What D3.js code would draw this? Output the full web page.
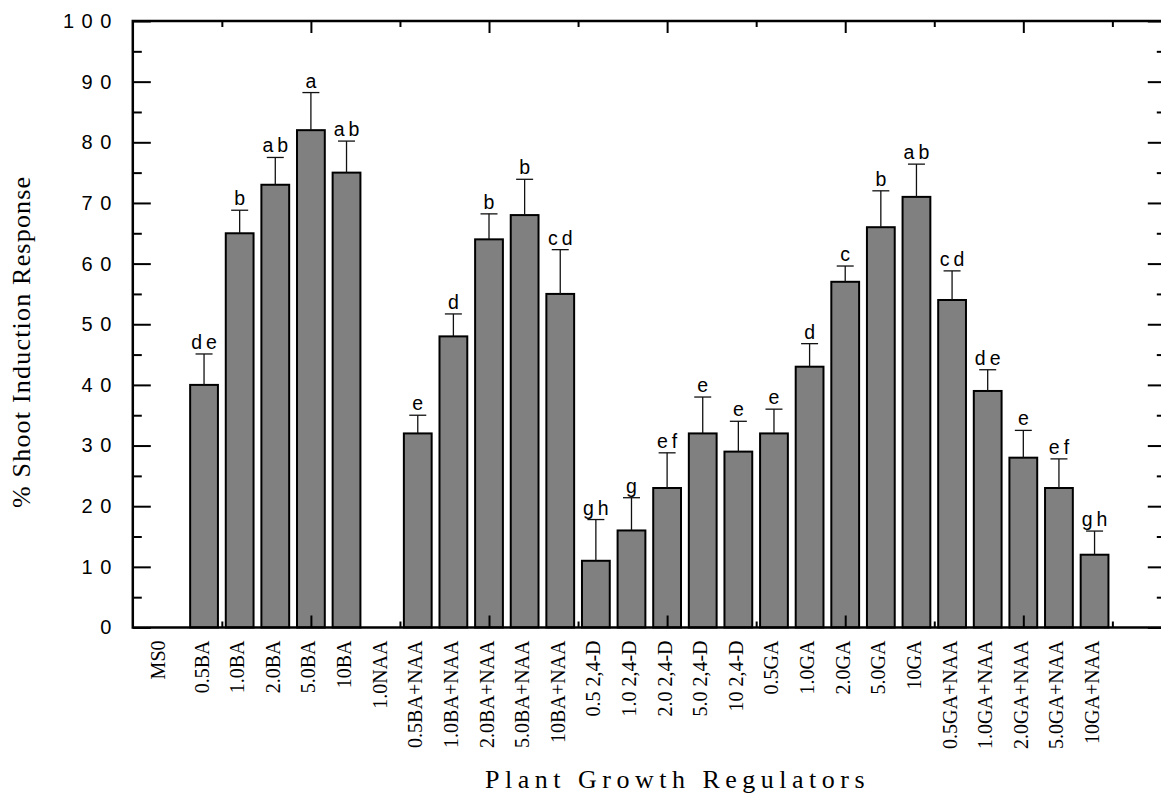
<!DOCTYPE html>
<html>
<head>
<meta charset="utf-8">
<script src="https://cdn.jsdelivr.net/npm/d3@7"></script>
<style>
  html, body { margin: 0; padding: 0; background: #fff; }
  svg { display: block; }
</style>
</head>
<body>
<svg id="chart" width="1161" height="796"></svg>
<script>
// Treatments in plotting order
const categories = [
  "MS0", "0.5BA", "1.0BA", "2.0BA", "5.0BA", "10BA", "1.0NAA",
  "0.5BA+NAA", "1.0BA+NAA", "2.0BA+NAA", "5.0BA+NAA", "10BA+NAA",
  "0.5 2,4-D", "1.0 2,4-D", "2.0 2,4-D", "5.0 2,4-D", "10 2,4-D",
  "0.5GA", "1.0GA", "2.0GA", "5.0GA", "10GA",
  "0.5GA+NAA", "1.0GA+NAA", "2.0GA+NAA", "5.0GA+NAA", "10GA+NAA"
];
// Mean % shoot induction response
const means = [
  0, 40, 65, 73, 82, 75, 0,
  32, 48, 64, 68, 55,
  11, 16, 23, 32, 29,
  32, 43, 57, 66, 71,
  54, 39, 28, 23, 12
];
// Standard error (upper bar only)
const errors = [
  0, 5.1, 3.8, 4.5, 6.2, 5.2, 0,
  3.0, 3.7, 4.2, 5.9, 7.3,
  6.8, 5.4, 5.8, 6.0, 5.0,
  4.0, 3.8, 2.6, 6.0, 5.4,
  4.8, 3.5, 4.5, 4.8, 3.9
];
// Significance groups
const letters = [
  "", "de", "b", "ab", "a", "ab", "",
  "e", "d", "b", "b", "cd",
  "gh", "g", "ef", "e", "e",
  "e", "d", "c", "b", "ab",
  "cd", "de", "e", "ef", "gh"
];
const yTicks = [0, 10, 20, 30, 40, 50, 60, 70, 80, 90, 100];
const yMinorTicks = [5, 15, 25, 35, 45, 55, 65, 75, 85, 95];
const xMajorTicks = [5, 10, 15, 20, 25];
const xMinorTicks = [2.5, 7.5, 12.5, 17.5, 22.5, 27.5];

const data = categories.map((c, i) => ({
  name: c, pos: i + 1, mean: means[i], err: errors[i], letter: letters[i]
}));

const svg = d3.select("#chart");
const plotL = 132.8, plotR = 1165.8, plotT = 21, plotB = 627.5;

const x = d3.scaleLinear().domain([0, 29]).range([plotL, plotR]);
const y = d3.scaleLinear().domain([0, 100]).range([plotB, plotT]);

const barW = 0.78;
const capHalf = 8.5;

// bars
svg.append("g").selectAll("rect").data(data.filter(d => d.mean > 0)).join("rect")
  .attr("x", d => x(d.pos - barW / 2))
  .attr("y", d => y(d.mean))
  .attr("width", x(barW) - x(0))
  .attr("height", d => y(0) - y(d.mean))
  .attr("fill", "#808080")
  .attr("stroke", "#000")
  .attr("stroke-width", 2);

// error bars
const eb = svg.append("g").attr("stroke", "#111").attr("stroke-width", 1.3);
const withErr = data.filter(d => d.err > 0);
eb.selectAll("line.v").data(withErr).join("line").attr("class", "v")
  .attr("x1", d => x(d.pos)).attr("x2", d => x(d.pos))
  .attr("y1", d => y(d.mean)).attr("y2", d => y(d.mean + d.err));
eb.selectAll("line.c").data(withErr).join("line").attr("class", "c")
  .attr("x1", d => x(d.pos) - capHalf).attr("x2", d => x(d.pos) + capHalf)
  .attr("y1", d => y(d.mean + d.err)).attr("y2", d => y(d.mean + d.err));

// significance letters
svg.append("g").selectAll("text").data(data.filter(d => d.letter)).join("text")
  .attr("x", d => x(d.pos) + 2)
  .attr("y", d => y(d.mean + d.err) - 5)
  .attr("text-anchor", "middle")
  .attr("font-family", "Liberation Sans, Arial, sans-serif")
  .attr("font-size", 19.5)
  .attr("letter-spacing", 4)
  .attr("fill", "#000")
  .text(d => d.letter);

function styleAxis(g) {
  g.select(".domain").remove();
  g.selectAll(".tick line").attr("stroke", "#000").attr("stroke-width", 2);
}

// left axis with labels
svg.append("g").attr("transform", `translate(${plotL},0)`)
  .call(d3.axisLeft(y).tickValues(yTicks).tickSize(-18).tickPadding(14))
  .call(styleAxis)
  .call(g => g.selectAll("text")
    .attr("font-family", "Liberation Sans, Arial, sans-serif")
    .attr("font-size", 20).attr("letter-spacing", 7.5).attr("fill", "#000"));
svg.append("g").attr("transform", `translate(${plotL},0)`)
  .call(d3.axisLeft(y).tickValues(yMinorTicks).tickSize(-9).tickFormat(""))
  .call(styleAxis);

// right axis
svg.append("g").attr("transform", `translate(${plotR},0)`)
  .call(d3.axisRight(y).tickValues(yTicks).tickSize(-18).tickFormat(""))
  .call(styleAxis);
svg.append("g").attr("transform", `translate(${plotR},0)`)
  .call(d3.axisRight(y).tickValues(yMinorTicks).tickSize(-9).tickFormat(""))
  .call(styleAxis);

// top and bottom axes
[[plotT, d3.axisTop], [plotB, d3.axisBottom]].forEach(([yy, ax]) => {
  svg.append("g").attr("transform", `translate(0,${yy})`)
    .call(ax(x).tickValues(xMajorTicks).tickSize(-12).tickFormat(""))
    .call(styleAxis);
  svg.append("g").attr("transform", `translate(0,${yy})`)
    .call(ax(x).tickValues(xMinorTicks).tickSize(-6).tickFormat(""))
    .call(styleAxis);
});

// category labels
svg.append("g").attr("transform", `translate(0,${plotB})`)
  .call(d3.axisBottom(x).tickValues(data.map(d => d.pos))
    .tickFormat(p => categories[p - 1]).tickSize(0))
  .call(g => g.select(".domain").remove())
  .call(g => g.selectAll("text")
    .attr("transform", "rotate(-90)")
    .attr("text-anchor", "end")
    .attr("x", -13)
    .attr("y", (p) => p === 1 ? -11 : -3)
    .attr("dy", "0.35em")
    .attr("font-family", "Liberation Serif, Times New Roman, serif")
    .attr("font-size", 20)
    .attr("fill", "#000"));

// frame
svg.append("path")
  .attr("d", `M${plotL},${plotB}V${plotT}H${plotR}V${plotB}Z`)
  .attr("fill", "none").attr("stroke", "#000").attr("stroke-width", 2.5);

// axis titles
svg.append("text")
  .attr("transform", "translate(30,508) rotate(-90)")
  .attr("text-anchor", "start")
  .attr("font-family", "Liberation Serif, Times New Roman, serif")
  .attr("font-size", 26)
  .attr("letter-spacing", 1.2)
  .text("% Shoot Induction Response");

svg.append("text")
  .attr("x", 485).attr("y", 788)
  .attr("font-family", "Liberation Serif, Times New Roman, serif")
  .attr("font-size", 26)
  .attr("letter-spacing", 5.5)
  .text("Plant Growth Regulators");
</script>
</body>
</html>
